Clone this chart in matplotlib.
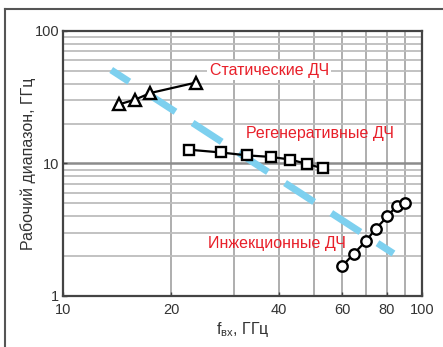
import matplotlib
matplotlib.use("Agg")
import matplotlib.pyplot as plt
from matplotlib.lines import Line2D
import numpy as np

plt.rcParams['font.family'] = ['Liberation Sans', 'DejaVu Sans']

# Data
stat_x = [14.3, 15.85, 17.5, 23.4]
stat_y = [27.9, 30.3, 34.0, 40.7]
regen_x = [22.4, 27.5, 32.6, 37.9, 43.0, 47.9, 52.9]
regen_y = [12.7, 12.1, 11.5, 11.2, 10.7, 9.9, 9.2]
inj_x = [60.1, 64.7, 69.8, 74.4, 80.2, 85.1, 89.9]
inj_y = [1.69, 2.09, 2.59, 3.21, 3.98, 4.79, 4.99]
trend_x = [13.6, 83.4]
trend_y = [50.7, 2.09]

x_ticks = [10, 20, 40, 60, 80, 100]
y_ticks = [1, 10, 100]

fig = plt.figure(figsize=(4.43, 3.47), dpi=100)
ax = fig.add_axes([0.143, 0.147, 0.809, 0.764])

ax.set_xscale('log')
ax.set_yscale('log')
ax.set_xlim(10, 100)
ax.set_ylim(1, 100)

# grid
for v in range(20, 100, 10):
    ax.axvline(v, color='#a8a8a8', lw=1.3, zorder=0)
for dec in [1, 10]:
    for m in range(2, 10):
        ax.axhline(dec * m, color='#bdbdbd', lw=1.3, zorder=0)
ax.axhline(10, color='#8c8c8c', lw=1.8, zorder=0)

# trend line
ax.plot(trend_x, trend_y, color='#7dd0ef', lw=5.0, linestyle=(1.9, (5.0, 2.94)),
        dash_capstyle='butt', zorder=1)

mk = dict(color='black', lw=1.6, mfc='white', mec='black', mew=1.7, zorder=3)
ax.plot(stat_x, stat_y, marker='^', ms=9, **mk)
ax.plot(regen_x, regen_y, marker='s', ms=7, **mk)
ax.plot(inj_x, inj_y, marker='o', ms=7.5, **mk)

ax.set_xticks(x_ticks)
ax.set_xticklabels([str(t) for t in x_ticks])
ax.set_yticks(y_ticks)
ax.set_yticklabels([str(t) for t in y_ticks])
ax.xaxis.set_minor_locator(matplotlib.ticker.NullLocator())
ax.yaxis.set_minor_locator(matplotlib.ticker.NullLocator())
ax.tick_params(axis='both', length=3, width=1, color='#444444', labelsize=10.5,
               labelcolor='#333333', direction='in', pad=3)
ax.tick_params(axis='x', pad=5)
for s in ax.spines.values():
    s.set_color('#444444')
    s.set_linewidth(1.6)

tcol = '#e8202a'
bb = dict(facecolor='white', edgecolor='none', pad=1.5)
ax.text(37.5, 49.9, 'Статические ДЧ', color=tcol, fontsize=11.5, ha='center', va='center', bbox=bb, zorder=4)
ax.text(52.0, 16.7, 'Регенеративные ДЧ', color=tcol, fontsize=11.5, ha='center', va='center', zorder=4)
ax.text(39.5, 2.47, 'Инжекционные ДЧ', color=tcol, fontsize=11.5, ha='center', va='center', zorder=4)

ax.set_xlabel('f$_{\\mathregular{вх}}$, ГГц', fontsize=11.5, color='#333333', labelpad=2)
ax.set_ylabel('Рабочий диапазон, ГГц', fontsize=11.5, color='#333333', labelpad=-1)

# outer frame
fig.add_artist(Line2D([4.5/443, 4.5/443], [0, 1 - 9/347], transform=fig.transFigure,
                      color='#555555', lw=1.5))
fig.add_artist(Line2D([4.5/443, 1], [1 - 9/347, 1 - 9/347], transform=fig.transFigure,
                      color='#555555', lw=1.5))

fig.savefig('out.png', dpi=100)
